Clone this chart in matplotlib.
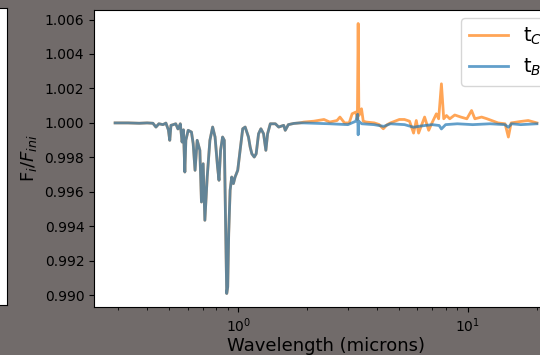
import numpy as np
import matplotlib
matplotlib.use("Agg")
from matplotlib import pyplot as plt

# short-wavelength part, identical for both runs
wl_common = [0.29, 0.33, 0.37, 0.40, 0.424, 0.437, 0.45, 0.469,
             0.483, 0.495, 0.502, 0.508, 0.52, 0.533, 0.545, 0.551,
             0.558, 0.568, 0.576, 0.584, 0.590, 0.604, 0.624, 0.635,
             0.647, 0.661, 0.679, 0.690, 0.702, 0.714, 0.731, 0.751,
             0.772, 0.791, 0.811, 0.823, 0.836, 0.853, 0.868, 0.880,
             0.889, 0.898, 0.907, 0.920, 0.935, 0.951, 0.967, 0.993,
             1.017, 1.044, 1.070, 1.106, 1.125, 1.144, 1.172, 1.195,
             1.224, 1.253, 1.287, 1.317, 1.340, 1.377, 1.449, 1.498,
             1.575, 1.60, 1.65, 1.742, 1.85]
flux_common = [1.0000, 1.0000, 0.99998, 1.0000, 0.99998, 0.99976, 0.99995, 0.99990,
               0.99999, 0.99960, 0.99899, 0.99986, 0.99990, 0.99995, 0.99965, 0.99976,
               0.99995, 0.99889, 0.99960, 0.99715, 0.99900, 0.99957, 0.99947, 0.99880,
               0.99725, 0.99899, 0.99841, 0.99541, 0.99763, 0.99435, 0.99686, 0.99899,
               0.99976, 0.99918, 0.99744, 0.99667, 0.99841, 0.99918, 0.99899, 0.99377,
               0.99010, 0.99048, 0.99358, 0.99609, 0.99686, 0.99648, 0.99686, 0.99725,
               0.99841, 0.99966, 0.99976, 0.99918, 0.99860, 0.99821, 0.99802, 0.99821,
               0.99937, 0.99966, 0.99937, 0.99841, 0.99937, 0.99995, 0.99995, 0.99976,
               0.99986, 0.99957, 0.99990, 0.99997, 1.0000]

# long-wavelength part, t_C
wl_long_c = [1.93, 2.13, 2.36, 2.50, 2.69, 2.77, 2.90, 3.04,
             3.13, 3.25, 3.30, 3.326, 3.35, 3.44, 3.50, 3.61,
             3.91, 4.10, 4.28, 4.45, 4.60, 5.03, 5.29, 5.57,
             5.80, 5.96, 6.10, 6.28, 6.48, 6.75, 6.95, 7.29,
             7.46, 7.67, 7.85, 8.07, 8.34, 8.77, 9.32, 9.90,
             10.38, 10.73, 11.48, 12.12, 12.70, 13.54, 14.53, 15.02,
             15.44, 16.91, 18.33, 20.0]
flux_long_c = [1.00005, 1.0001, 1.0002, 1.00005, 1.00014, 1.00034, 1.0000, 1.0000,
               1.00053, 1.00063, 1.0002, 1.00577, 1.00043, 1.00082, 1.0001, 1.00005,
               1.0000, 0.99991, 0.99966, 0.99990, 1.0000, 1.0002, 1.0002, 1.0001,
               0.99941, 1.00014, 0.99941, 0.99986, 1.00034, 0.99957, 0.99995, 1.00053,
               1.00024, 1.00227, 1.00024, 1.00043, 1.00024, 1.00046, 1.00034, 1.00024,
               1.00072, 1.00024, 1.00034, 1.00024, 1.00014, 1.0000, 0.99995, 0.99918,
               1.0000, 1.00008, 1.00014, 1.0000]

# long-wavelength part, t_B
wl_long_b = [1.93, 2.5, 3.0, 3.25, 3.31, 3.326, 3.34, 3.45,
             3.9, 4.3, 4.6, 5.3, 5.8, 6.1, 6.5, 7.0,
             7.5, 7.67, 8.0, 9.0, 10.5, 12.5, 14.5, 15.02,
             15.5, 17.0, 20.0]
flux_long_b = [1.0000, 0.99995, 0.99990, 1.0001, 1.0005, 0.99931, 1.0001, 0.99995,
               0.99990, 0.99980, 0.99995, 0.99990, 0.99975, 0.99980, 0.99985, 0.99990,
               0.99985, 0.99965, 0.99990, 0.99995, 0.99990, 0.99995, 0.99990, 0.99975,
               0.99995, 0.99990, 0.99995]

wl_c = np.array(wl_common + wl_long_c)
tc = np.array(flux_common + flux_long_c)
wl_b = np.array(wl_common + wl_long_b)
tb = np.array(flux_common + flux_long_b)

fig = plt.figure(figsize=(5.4, 3.55), dpi=100, facecolor='#716b6a')

# edge of the neighbouring panel
ax_left = fig.add_axes([-0.5, 50 / 355, 0.5 + 7 / 540, 297 / 355])
ax_left.set_xticks([])
ax_left.set_yticks([])

ax = fig.add_axes([94 / 540, 48 / 355, 464 / 540, 297 / 355])
ax.plot(wl_c, tc, color='tab:orange', alpha=0.7, lw=2, label=r't$_C$')
ax.plot(wl_b, tb, color='tab:blue', alpha=0.7, lw=2, label=r't$_B$')
ax.set_xscale('log')
ax.ticklabel_format(axis='y', useOffset=False)
ax.set_xlabel('Wavelength (microns)', fontsize=13, labelpad=1)
ax.set_ylabel(r'F$_i$/$F_{ini}$', fontsize=13)
ax.legend(loc='upper right', fontsize=14, borderaxespad=0.4)

fig.savefig('out.png', dpi=100, facecolor=fig.get_facecolor())
